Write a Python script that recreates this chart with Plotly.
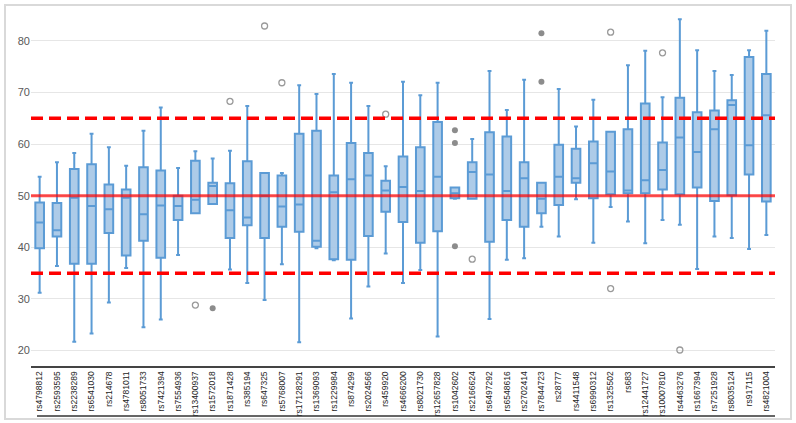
import plotly.graph_objects as go

snps = ["rs4798812", "rs2593595", "rs2238289", "rs6541030", "rs214678", "rs4781011",
        "rs8051733", "rs7421394", "rs7554936", "rs13400937", "rs1572018", "rs1871428",
        "rs385194", "rs647325", "rs5768007", "rs17128291", "rs1369093", "rs1229984",
        "rs874299", "rs2024566", "rs459920", "rs4666200", "rs8021730", "rs12657828",
        "rs1042602", "rs2166624", "rs6497292", "rs6548616", "rs2702414", "rs7844723",
        "rs28777", "rs4411548", "rs6990312", "rs1325502", "rs683", "rs12441727",
        "rs10007810", "rs4463276", "rs1667394", "rs7251928", "rs8035124", "rs917115",
        "rs4821004"]

upper = [53.7, 56.5, 58.3, 62.0, 59.4, 55.8, 62.6, 67.1, 55.4, 58.6, 57.2, 58.7,
         67.4, 54.4, 54.4, 71.4, 69.7, 73.6, 71.9, 67.4, 55.7, 72.1, 69.5, 71.9,
         51.6, 61.0, 74.2, 66.6, 72.5, 52.5, 70.7, 63.4, 68.6, 62.4, 75.3, 78.1,
         69.1, 84.2, 78.2, 74.2, 73.4, 78.2, 82.0]
q3 = [48.7, 48.6, 55.2, 56.1, 52.2, 51.2, 55.5, 54.9, 50.0, 56.8, 52.5, 52.4,
      56.7, 54.4, 53.9, 62.0, 62.6, 53.9, 60.2, 58.3, 52.9, 57.6, 59.4, 64.3,
      51.6, 56.5, 62.3, 61.5, 56.5, 52.5, 59.9, 59.1, 60.5, 62.4, 62.9, 67.9,
      60.3, 69.0, 66.2, 66.5, 68.5, 76.9, 73.6]
median = [44.8, 43.3, 49.6, 48.0, 47.4, 49.6, 46.4, 48.1, 48.0, 49.2, 51.9, 47.2,
          45.8, 50.0, 47.9, 48.3, 41.3, 50.7, 53.2, 53.9, 51.0, 51.7, 50.9, 53.7,
          50.5, 54.6, 54.1, 50.9, 53.4, 49.4, 53.7, 53.4, 56.3, 54.7, 51.0, 53.0,
          55.0, 61.3, 58.5, 62.9, 67.6, 59.8, 65.6]
q1 = [39.8, 42.1, 36.8, 36.8, 42.8, 38.4, 41.3, 38.0, 45.3, 46.6, 48.4, 41.8,
      44.3, 41.8, 44.0, 43.0, 40.1, 37.7, 37.6, 42.2, 46.9, 44.9, 40.9, 43.1,
      49.5, 49.4, 41.1, 45.3, 44.0, 46.6, 48.2, 52.5, 49.5, 50.3, 50.5, 50.5,
      51.2, 50.3, 51.6, 49.0, 50.1, 54.1, 48.9]
lower = [31.2, 36.4, 21.7, 23.3, 29.3, 36.0, 24.5, 26.0, 38.5, 46.6, 48.4, 35.7,
         33.1, 29.8, 36.7, 21.6, 39.8, 37.5, 26.2, 32.4, 38.8, 33.1, 35.6, 22.7,
         49.4, 49.4, 26.1, 37.6, 37.9, 44.0, 42.1, 49.3, 40.9, 47.8, 45.0, 40.8,
         45.3, 44.4, 35.8, 42.1, 41.8, 39.7, 42.4]

open_out_x = ["rs13400937", "rs1871428", "rs647325", "rs5768007", "rs459920",
              "rs2166624", "rs1325502", "rs1325502", "rs10007810", "rs4463276"]
open_out_y = [28.8, 68.3, 82.9, 71.9, 65.8, 37.7, 81.7, 32.0, 77.7, 20.1]
filled_out_x = ["rs1572018", "rs1042602", "rs1042602", "rs1042602", "rs7844723", "rs7844723"]
filled_out_y = [28.2, 62.7, 60.2, 40.2, 81.5, 72.1]

ref_solid = [50]
ref_dashed = [35, 65]
y_ticks = [20, 30, 40, 50, 60, 70, 80]

W, H = 796, 423
ML, MR, MT, MB = 31, 21, 10, 57

fig = go.Figure()
fig.add_trace(go.Box(
    x=snps, q1=q1, median=median, q3=q3, lowerfence=lower, upperfence=upper,
    boxpoints=False, width=0.5, whiskerwidth=0.45,
    fillcolor="rgba(164,197,230,0.9)",
    line=dict(color="#5b9bd5", width=2),
    showlegend=False, hoverinfo="skip"))
fig.add_trace(go.Scatter(
    x=open_out_x, y=open_out_y, mode="markers",
    marker=dict(symbol="circle-open", size=6, color="#9a9a9a", line=dict(width=1.3)),
    showlegend=False, hoverinfo="skip"))
fig.add_trace(go.Scatter(
    x=filled_out_x, y=filled_out_y, mode="markers",
    marker=dict(symbol="circle", size=6, color="#8c8c8c"),
    showlegend=False, hoverinfo="skip"))

pw = W - ML - MR
ph = H - MT - MB
for v in ref_solid:
    fig.add_shape(type="line", xref="paper", yref="y", x0=0, x1=1, y0=v, y1=v,
                  line=dict(color="rgba(255,0,0,0.7)", width=3.2), layer="above")
for v in ref_dashed:
    fig.add_shape(type="line", xref="paper", yref="y", x0=0, x1=1, y0=v, y1=v,
                  line=dict(color="#ff0000", width=3.5, dash="12px,6px"), layer="above")

# bottom line of the label band
yb = -(416 - (H - MB)) / ph
fig.add_shape(type="line", xref="paper", yref="paper",
              x0=(37 - ML) / pw, x1=1, y0=yb, y1=yb,
              line=dict(color="#333333", width=1.5))
# outer light border
fig.add_shape(type="rect", xref="paper", yref="paper",
              x0=(5 - ML) / pw, x1=(791 - ML) / pw,
              y0=-(419 - (H - MB)) / ph, y1=1 + (MT - 5) / ph,
              line=dict(color="#d9d9d9", width=2))

fig.update_layout(
    width=W, height=H,
    margin=dict(l=ML, r=MR, t=MT, b=MB, autoexpand=False),
    paper_bgcolor="white", plot_bgcolor="white",
    font=dict(family="Liberation Sans, Arial, sans-serif"),
    xaxis=dict(type="category", categoryorder="array", categoryarray=snps,
               range=[-0.5, len(snps) - 0.5], automargin=False,
               showgrid=False, zeroline=False, showline=True,
               linecolor="#444444", linewidth=2, ticks="",
               tickangle=-90, tickfont=dict(size=8.5, color="#222222")),
    yaxis=dict(range=[17, 86], tickvals=y_ticks, showgrid=True, gridcolor="#e6e6e6",
               gridwidth=1, zeroline=False, showline=False, ticks="", automargin=False,
               tickfont=dict(size=11, color="#595959")),
)

fig.write_html("out.html", config={"displayModeBar": False},
               post_script="document.body.style.margin='0';document.body.style.overflow='hidden';")
